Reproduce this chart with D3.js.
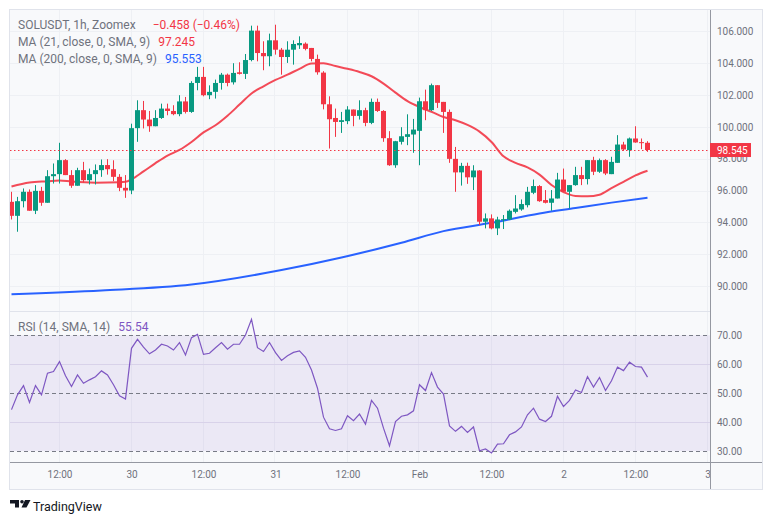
<!DOCTYPE html>
<html><head><meta charset="utf-8">
<script src="https://cdn.jsdelivr.net/npm/d3@7/dist/d3.min.js"></script>
<style>
html,body{margin:0;padding:0;background:#fff;}
svg{display:block;font-family:Roboto,"Noto Sans",sans-serif;}
</style></head><body>
<svg id="c" width="772" height="523"></svg>
<script>
// ---- DATA (hourly candles, SOLUSDT 1h, from Jan 29 04:00) ----
const opens = [95.29,94.41,95.33,95.92,94.73,95.98,95.23,96.90,97.03,97.91,96.97,96.30,97.28,96.65,97.03,97.28,97.60,97.34,96.86,96.17,
96.00,99.92,101.05,100.46,100.04,100.56,101.15,101.00,100.80,101.60,100.94,102.76,103.14,101.99,102.20,102.76,103.28,102.80,103.43,103.33,
104.20,106.05,104.64,104.44,105.44,104.85,104.39,104.85,105.13,105.23,104.96,104.27,103.41,101.42,100.56,100.31,100.36,101.09,100.69,101.05,
100.25,101.57,101.00,99.29,97.59,99.06,99.37,99.52,99.75,101.61,101.05,102.62,101.57,100.94,97.99,97.14,97.55,96.83,97.26,94.04,
94.25,93.62,94.14,94.18,94.66,94.81,95.08,95.86,96.28,95.40,95.23,95.50,96.69,95.92,96.34,96.97,96.72,97.91,97.18,97.91,
97.03,97.74,98.89,98.54,99.27,99.04,99.00];
const highs = [95.92,95.60,96.13,96.07,96.34,96.23,97.28,97.70,99.00,97.97,97.28,97.43,97.80,97.38,97.64,97.95,97.97,97.90,97.03,96.97,
100.20,101.67,101.63,101.00,101.05,101.46,101.46,101.36,101.99,101.88,102.87,103.77,103.77,102.61,102.97,103.39,103.35,104.00,104.06,104.58,
106.36,106.36,105.38,105.86,106.42,104.96,105.38,105.44,105.69,105.31,104.96,104.54,103.50,101.92,101.15,100.94,101.30,101.09,101.67,101.20,
101.78,101.78,101.05,99.73,99.12,99.98,100.79,100.50,101.84,102.34,102.72,102.62,101.57,101.09,98.74,97.74,97.75,97.59,97.28,94.56,
94.50,94.35,94.46,94.81,95.71,95.44,96.23,96.69,96.34,96.03,96.03,97.11,97.38,96.34,97.49,97.49,97.91,98.12,98.01,97.97,
98.12,99.48,99.06,99.33,100.04,99.27,99.10];
const lows = [94.18,93.41,94.94,94.73,94.52,95.04,95.23,96.44,96.44,96.97,96.17,96.30,96.50,96.38,96.38,96.86,97.00,96.59,95.96,95.54,
95.77,99.06,99.90,99.69,100.04,100.50,100.73,100.73,100.67,100.84,100.88,102.30,101.92,101.74,101.78,102.34,102.55,102.66,103.29,103.01,
104.12,104.12,103.56,103.81,104.54,103.28,104.02,103.91,104.90,104.81,104.12,103.28,101.10,98.64,99.37,99.62,100.17,100.04,100.46,100.04,
100.17,100.94,99.06,97.55,97.43,98.89,98.85,98.37,97.59,100.42,101.00,101.19,99.62,97.74,95.92,96.31,96.42,96.03,93.83,93.62,
93.56,93.20,93.58,94.14,94.56,94.73,94.94,95.77,95.29,95.19,94.73,95.50,95.92,94.87,96.30,96.34,96.38,96.97,97.11,96.97,
97.03,97.74,98.49,98.12,99.00,98.60,98.43];
const closes = [94.41,95.33,95.92,94.73,95.98,95.23,96.90,97.03,97.91,96.97,96.30,97.28,96.65,97.03,97.28,97.60,97.34,96.86,96.17,96.00,
99.92,101.05,100.46,100.04,100.56,101.15,101.00,100.80,101.60,100.94,102.76,103.14,101.99,102.20,102.76,103.28,102.76,103.39,103.33,104.20,
106.05,104.64,104.44,105.44,104.85,104.39,104.85,105.21,105.27,104.90,104.27,103.43,101.42,100.48,100.31,100.42,101.09,100.69,101.05,100.25,
101.57,101.00,99.29,97.59,99.10,99.41,99.54,99.83,101.61,101.05,102.62,101.51,100.94,97.99,97.14,97.55,96.83,97.26,94.04,94.25,
93.62,94.18,94.20,94.73,94.87,95.15,95.92,96.28,95.33,95.23,95.50,96.69,95.92,96.34,96.97,96.72,97.91,97.18,97.91,97.07,
97.80,98.89,98.58,99.27,99.02,99.003,98.545];
const rsiValues = [44.3,49.4,52.6,46.8,52.6,49.4,56.9,57.5,60.9,56.0,52.3,56.3,53.4,54.6,55.7,57.7,56.3,52.9,49.1,48.0,
65.5,68.6,65.9,63.6,64.9,66.9,66.3,64.9,67.5,63.2,69.2,70.3,63.4,63.8,65.7,67.5,65.2,66.9,66.9,70.1,
75.5,65.7,64.4,67.5,64.0,61.3,62.9,64.1,64.6,62.4,58.0,51.7,41.7,37.7,37.1,37.7,42.2,40.5,42.8,39.3,
47.5,44.8,37.9,31.8,40.2,42.0,42.5,43.9,52.9,50.9,57.1,52.1,49.7,38.7,36.8,38.5,36.4,38.3,30.1,30.7,
29.3,32.4,32.5,35.6,36.6,38.3,42.5,44.8,41.0,40.2,42.0,48.9,45.4,47.5,51.1,50.2,55.7,52.1,55.4,50.9,
54.3,59.0,57.8,60.7,59.2,59.0,55.54];
const ma21Idx = [0,3,6,8,10,14,18,19,20,22,24,26,28,30,32,34,36,38,40,42,44,46,48,50,52,54,56,58,60,62,64,66,68,70,72,74,76,78,80,82,84,86,88,90,92,94,96,98,100,102,104,106];
const ma21Val = [96.25,96.50,96.58,96.63,96.56,96.49,96.52,96.55,96.70,97.20,97.72,98.20,98.55,99.05,99.65,100.10,100.70,101.40,102.10,102.55,102.95,103.28,103.65,103.98,104.00,103.82,103.65,103.45,103.18,102.72,102.15,101.62,101.25,100.95,100.62,100.42,100.12,99.70,99.05,98.15,97.74,97.45,97.00,96.35,95.90,95.66,95.64,95.74,96.15,96.55,96.95,97.245];
const ma200Idx = [0,15,30,45,55,65,72,80,88,94,100,106];
const ma200Val = [89.48,89.72,90.09,91.00,91.79,92.72,93.45,93.97,94.56,94.90,95.24,95.553];
const priceTicks = [90,92,94,96,98,100,102,104,106];
const rsiTicks = [30,40,50,60,70];
const rsiLevels = [30,50,70];
const timeTickIdx = [8,20,32,44,56,68,80,92,104,116];
const timeTickLabels = ["12:00","30","12:00","31","12:00","Feb","12:00","2","12:00","3"];
const lastPrice = 98.545;

// ---- LAYOUT ----
const svg = d3.select("#c");
const L = 10, R = 710, FR = 762, T = 10, SEP = 311, RB = 462, FB = 489;
const up = "#089981", dn = "#f23645", gridC = "#eef0f4", txtC = "#6f727d";

const x = d3.scaleLinear().domain([0,116]).range([11.5,707.5]);
const yP = d3.scaleLinear().domain([90,106]).range([286.0,31.4]);
const yR = d3.scaleLinear().domain([30,70]).range([451,335.3]);

svg.append("rect").attr("x",L-0.5).attr("y",T-0.5).attr("width",FR-L+1).attr("height",FB-T+1)
  .attr("fill","#f8f9fb").attr("stroke","#e0e3eb");

const defs = svg.append("defs");
defs.append("clipPath").attr("id","clipP").append("rect").attr("x",L).attr("y",T).attr("width",R-L).attr("height",SEP-T);
defs.append("clipPath").attr("id","clipR").append("rect").attr("x",L).attr("y",SEP).attr("width",R-L).attr("height",RB-SEP);
defs.append("clipPath").attr("id","clipT").append("rect").attr("x",L).attr("y",RB).attr("width",R-L).attr("height",FB-RB);

// vertical grid
const g = svg.append("g");
g.selectAll(".vg").data(timeTickIdx.filter(d=>x(d)<R)).join("line")
  .attr("x1",d=>Math.round(x(d))-0.5).attr("x2",d=>Math.round(x(d))-0.5)
  .attr("y1",T).attr("y2",RB).attr("stroke",gridC);
// horizontal grid price
g.selectAll(".hg").data(priceTicks).join("line")
  .attr("x1",L).attr("x2",R).attr("y1",d=>Math.round(yP(d))+0.5).attr("y2",d=>Math.round(yP(d))+0.5).attr("stroke",gridC);
// rsi band
svg.append("rect").attr("x",L).attr("width",R-L).attr("y",yR(70)).attr("height",yR(30)-yR(70))
  .attr("fill","#7e57c2").attr("fill-opacity",0.1);
g.selectAll(".hr").data([40,60]).join("line")
  .attr("x1",L).attr("x2",R).attr("y1",d=>Math.round(yR(d))+0.5).attr("y2",d=>Math.round(yR(d))+0.5).attr("stroke","#e3e0ee");
svg.selectAll(".lv").data(rsiLevels).join("line")
  .attr("x1",L).attr("x2",R).attr("y1",d=>Math.round(yR(d))+0.5).attr("y2",d=>Math.round(yR(d))+0.5)
  .attr("stroke","#787b86").attr("stroke-dasharray","4,3");

// separators
svg.append("line").attr("x1",L).attr("x2",R).attr("y1",SEP+0.5).attr("y2",SEP+0.5).attr("stroke","#e0e3eb");
svg.append("line").attr("x1",L).attr("x2",FR).attr("y1",RB+0.5).attr("y2",RB+0.5).attr("stroke","#9598a1");
svg.append("line").attr("x1",R+0.5).attr("x2",R+0.5).attr("y1",T).attr("y2",FB).attr("stroke","#9598a1");

// price pane content
const pp = svg.append("g").attr("clip-path","url(#clipP)");
const idx = d3.range(closes.length);
// MA lines
const lineMA = (I,V) => d3.line().x((d,i)=>x(I[i])).y(d=>yP(d)).curve(d3.curveMonotoneX)(V);
pp.append("path").attr("d",lineMA(ma200Idx,ma200Val)).attr("fill","none").attr("stroke","#2962ff").attr("stroke-width",2);
pp.append("path").attr("d",lineMA(ma21Idx,ma21Val)).attr("fill","none").attr("stroke","#f23645").attr("stroke-width",2).attr("stroke-opacity",0.9);
// candles
const cg = pp.append("g");
cg.selectAll(".w").data(idx).join("line")
  .attr("x1",i=>x(i)).attr("x2",i=>x(i)).attr("y1",i=>yP(highs[i])).attr("y2",i=>yP(lows[i]))
  .attr("stroke",i=>closes[i]>=opens[i]?up:dn).attr("stroke-width",1);
cg.selectAll(".b").data(idx).join("rect")
  .attr("x",i=>x(i)-2.5).attr("width",5)
  .attr("y",i=>yP(Math.max(opens[i],closes[i])))
  .attr("height",i=>Math.max(1,Math.abs(yP(opens[i])-yP(closes[i]))))
  .attr("fill",i=>closes[i]>=opens[i]?up:dn);
// last price line
pp.append("line").attr("x1",L).attr("x2",R).attr("y1",Math.round(yP(lastPrice))+0.5).attr("y2",Math.round(yP(lastPrice))+0.5)
  .attr("stroke","#f23645").attr("stroke-dasharray","1.5,2.5");

// RSI line
const rp = svg.append("g").attr("clip-path","url(#clipR)");
rp.append("path").attr("d",d3.line().x((d,i)=>x(i)).y(d=>yR(d))(rsiValues))
  .attr("fill","none").attr("stroke","#7e57c2").attr("stroke-width",1.2);

// Right axes
const ax = svg.append("g").attr("transform",`translate(${R},0)`)
  .call(d3.axisRight(yP).tickValues(priceTicks).tickFormat(d3.format(".3f")).tickSize(0).tickPadding(7));
ax.select(".domain").remove();
ax.selectAll("text").attr("fill",txtC).attr("font-size",10).attr("font-family","Roboto,sans-serif");
const ax2 = svg.append("g").attr("transform",`translate(${R},0)`)
  .call(d3.axisRight(yR).tickValues(rsiTicks).tickFormat(d3.format(".2f")).tickSize(0).tickPadding(7));
ax2.select(".domain").remove();
ax2.selectAll("text").attr("fill",txtC).attr("font-size",10).attr("font-family","Roboto,sans-serif");

// last price label
const ly = yP(lastPrice);
svg.append("rect").attr("x",R).attr("y",ly-7).attr("width",41).attr("height",14).attr("fill","#f23645");
svg.append("text").attr("x",R+7).attr("y",ly).attr("dy","0.35em").attr("fill","#fff").attr("font-size",10)
  .text(d3.format(".3f")(lastPrice));

// time axis
const tx = svg.append("g").attr("clip-path","url(#clipT)").append("g").attr("transform",`translate(0,${RB})`)
  .call(d3.axisBottom(x).tickValues(timeTickIdx).tickFormat((d,i)=>timeTickLabels[i]).tickSize(0).tickPadding(9));
tx.select(".domain").remove();
tx.selectAll("text").attr("fill",txtC).attr("font-size",10).attr("font-family","Roboto,sans-serif");

// legend
function legendRow(y, label, value, color, gap){
  const t = svg.append("text").attr("x",18).attr("y",y).attr("font-size",12).attr("fill",txtC).text(label);
  const w = t.node().getComputedTextLength();
  svg.append("text").attr("x",18+w+gap).attr("y",y).attr("font-size",12).attr("fill",color).text(value);
}
legendRow(29,"SOLUSDT, 1h, Zoomex","\u22120.458 (\u22120.46%)","#f23645",17);
legendRow(46,"MA (21, close, 0, SMA, 9)","97.245","#f23645",8);
legendRow(63,"MA (200, close, 0, SMA, 9)","95.553","#2962ff",8);
legendRow(331,"RSI (14, SMA, 14)","55.54","#7e57c2",8);

// TradingView logo
const lg = svg.append("g").attr("fill","#131722");
lg.append("path").attr("d","M10,500 H19 V507.5 H15 V503.5 H10 Z");
lg.append("circle").attr("cx",22).attr("cy",501.8).attr("r",1.8);
lg.append("path").attr("d","M25,500 H30.5 L26.5,507.5 H21.5 Z");
svg.append("text").attr("x",33).attr("y",510.5).attr("font-size",12.5).attr("fill","#131722").text("TradingView");
</script>
</body></html>
